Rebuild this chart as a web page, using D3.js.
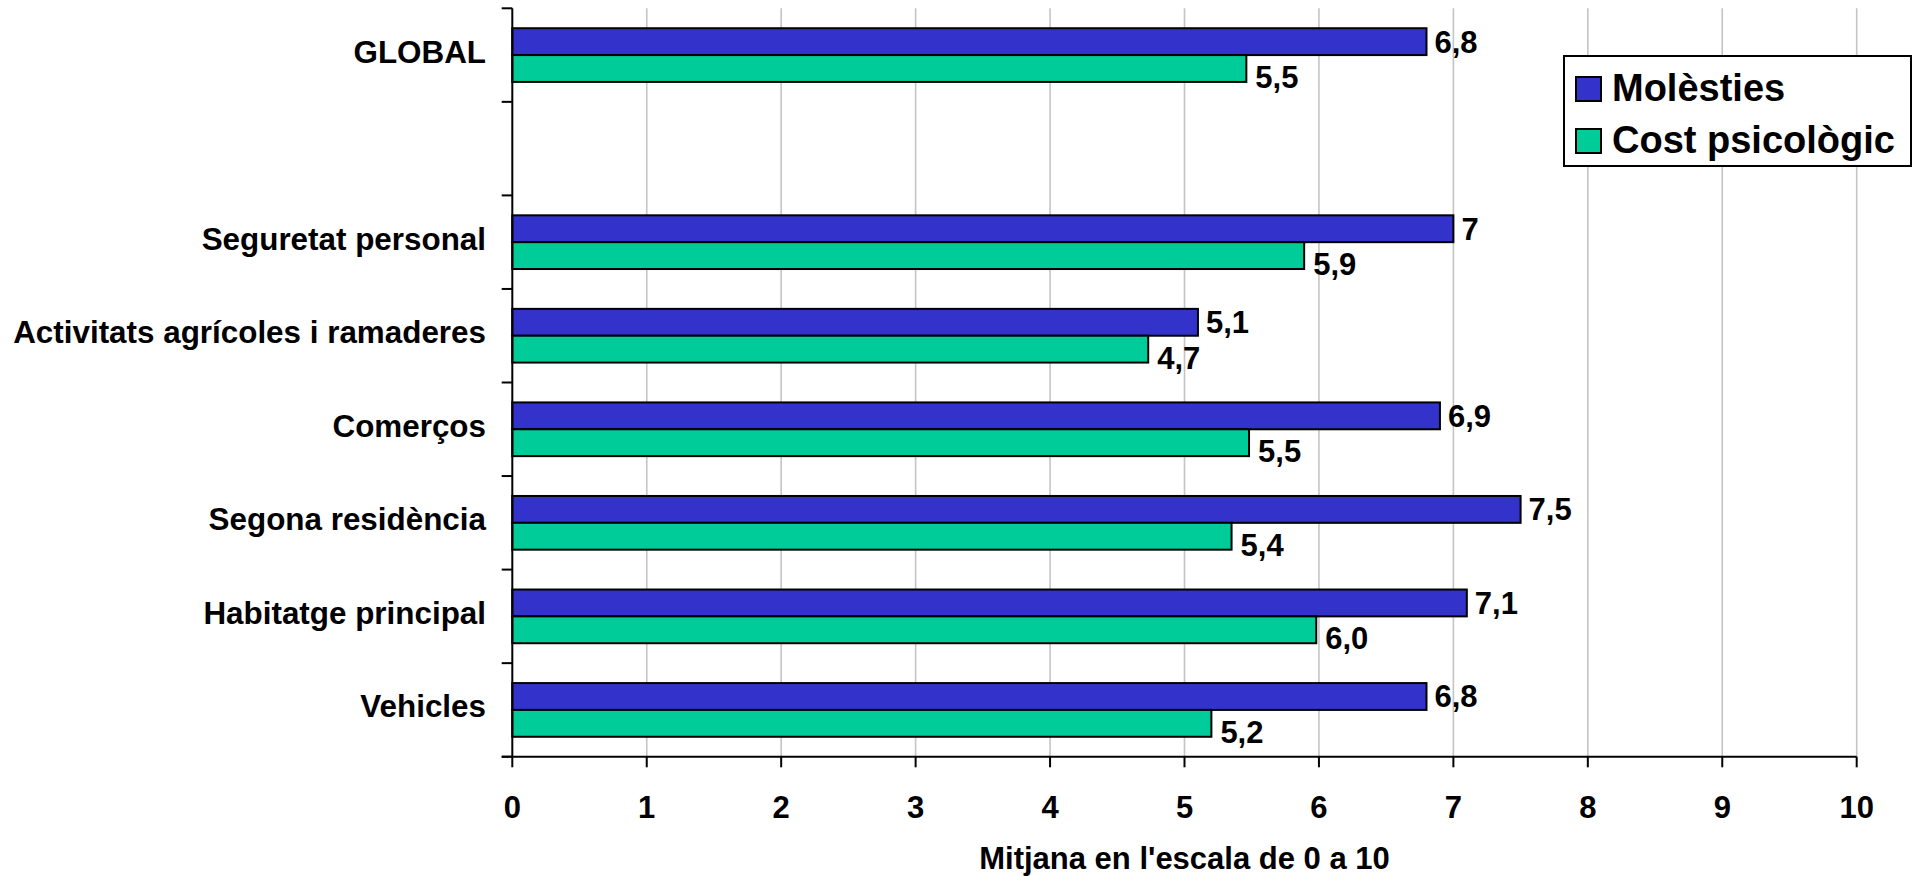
<!DOCTYPE html>
<html>
<head>
<meta charset="utf-8">
<script src="https://cdn.jsdelivr.net/npm/d3@7/dist/d3.min.js"></script>
<style>
html,body{margin:0;padding:0;background:#fff;}
svg{display:block;}
text{font-family:"Liberation Sans",Arial,sans-serif;font-weight:bold;fill:#000;}
</style>
</head>
<body>
<svg id="chart" width="1916" height="876"></svg>
<script>
// ---- data ----
const categories = ["GLOBAL", "", "Seguretat personal", "Activitats agrícoles i ramaderes", "Comerços", "Segona residència", "Habitatge principal", "Vehicles"];
const seriesNames = ["Molèsties", "Cost psicològic"];
const molesties = [6.8, null, 7.0, 5.1, 6.9, 7.5, 7.1, 6.8];
const costPsicologic = [5.46, null, 5.89, 4.73, 5.48, 5.35, 5.98, 5.2];
const molestiesLabels = ["6,8", "", "7", "5,1", "6,9", "7,5", "7,1", "6,8"];
const costLabels = ["5,5", "", "5,9", "4,7", "5,5", "5,4", "6,0", "5,2"];
const xTicks = [0, 1, 2, 3, 4, 5, 6, 7, 8, 9, 10];
const xTitle = "Mitjana en l'escala de 0 a 10";
const colors = ["#3333CC", "#00CC99"];

// ---- layout ----
const svg = d3.select("#chart");
const pLeft = 512.3, pRight = 1856.7, pTop = 8.3, pBottom = 756.7;
const fs = 31;

const x = d3.scaleLinear().domain([0, 10]).range([pLeft, pRight]);
const y = d3.scaleBand().domain(categories).range([pTop, pBottom]).padding(0);
const sub = d3.scaleBand().domain(seriesNames).range([0, y.bandwidth()]).paddingInner(0).paddingOuter(0.742);

// gridlines
svg.append("g").selectAll("line").data(xTicks.filter(d => d > 0)).join("line")
  .attr("x1", d => x(d)).attr("x2", d => x(d))
  .attr("y1", pTop).attr("y2", pBottom)
  .attr("stroke", "#c4c4c4").attr("stroke-width", 1.6);

// bars
const rows = categories.map((c, i) => ({c, vals: [molesties[i], costPsicologic[i]], labs: [molestiesLabels[i], costLabels[i]]}));
const gBars = svg.append("g");
rows.forEach(r => {
  r.vals.forEach((v, k) => {
    if (v == null) return;
    const y0 = y(r.c) + sub(seriesNames[k]);
    const bh = sub.bandwidth();
    gBars.append("rect")
      .attr("x", x(0)).attr("y", y0)
      .attr("width", x(v) - x(0)).attr("height", bh)
      .attr("fill", colors[k]).attr("stroke", "#000").attr("stroke-width", 2);
    const ty = k === 0 ? y0 + bh / 2 + 11 : y0 + bh + 6;
    gBars.append("text")
      .attr("x", x(v) + (k === 0 ? 8 : 9)).attr("y", ty)
      .attr("font-size", fs)
      .text(r.labs[k]);
  });
});

// y axis
const gy = svg.append("g");
gy.append("line").attr("x1", pLeft).attr("x2", pLeft).attr("y1", pTop).attr("y2", pBottom)
  .attr("stroke", "#000").attr("stroke-width", 2);
const boundaries = categories.map(c => y(c)).concat([pBottom]);
gy.selectAll("line.tk").data(boundaries).join("line").attr("class", "tk")
  .attr("x1", pLeft - 10.6).attr("x2", pLeft).attr("y1", d => d).attr("y2", d => d)
  .attr("stroke", "#000").attr("stroke-width", 2);
gy.selectAll("text").data(categories.filter(c => c !== "")).join("text")
  .attr("x", 486).attr("y", d => y(d) + y.bandwidth() / 2 + 7.5)
  .attr("text-anchor", "end")
  .attr("font-size", 31.4)
  .text(d => d);

// x axis
const gx = svg.append("g");
gx.append("line").attr("x1", pLeft - 10.6).attr("x2", pRight).attr("y1", pBottom).attr("y2", pBottom)
  .attr("stroke", "#000").attr("stroke-width", 2);
gx.selectAll("line.tk").data(xTicks).join("line").attr("class", "tk")
  .attr("x1", d => x(d)).attr("x2", d => x(d)).attr("y1", pBottom).attr("y2", pBottom + 10.6)
  .attr("stroke", "#000").attr("stroke-width", 2);
gx.selectAll("text").data(xTicks).join("text")
  .attr("x", d => x(d)).attr("y", 818)
  .attr("text-anchor", "middle")
  .attr("font-size", fs)
  .text(d => d);
svg.append("text")
  .attr("x", (pLeft + pRight) / 2).attr("y", 869)
  .attr("text-anchor", "middle")
  .attr("font-size", fs)
  .text(xTitle);

// legend
const lg = svg.append("g");
lg.append("rect").attr("x", 1564).attr("y", 56).attr("width", 347).attr("height", 110)
  .attr("fill", "#fff").attr("stroke", "#000").attr("stroke-width", 2);
const legBase = [101, 153];
seriesNames.forEach((s, k) => {
  lg.append("rect").attr("x", 1576).attr("y", legBase[k] - 24).attr("width", 25).attr("height", 24)
    .attr("fill", colors[k]).attr("stroke", "#000").attr("stroke-width", 2);
  lg.append("text").attr("x", 1612).attr("y", legBase[k]).attr("font-size", 38).text(s);
});
</script>
</body>
</html>
